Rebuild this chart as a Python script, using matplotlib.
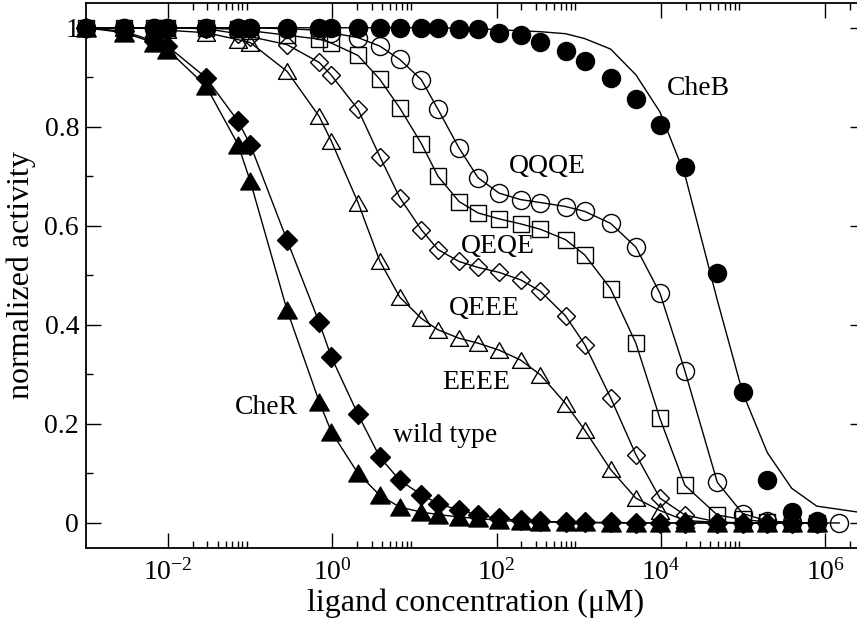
import matplotlib
matplotlib.use("Agg")
import matplotlib.pyplot as plt
from matplotlib.path import Path
from matplotlib.ticker import FixedLocator, FixedFormatter, NullFormatter

plt.rcParams['font.family'] = ['Liberation Serif', 'DejaVu Serif']
plt.rcParams['mathtext.fontset'] = 'custom'
plt.rcParams['mathtext.rm'] = 'Liberation Serif'
plt.rcParams['mathtext.it'] = 'Liberation Serif:italic'
plt.rcParams['mathtext.bf'] = 'Liberation Serif:bold'

# ligand concentrations (uM) of the measured points
conc = [1e-3, 2.9e-3, 6.7e-3, 9.8e-3, 2.9e-2, 7.1e-2, 0.1, 0.28, 0.69, 0.97,
        2.05, 3.77, 6.6, 12.1, 19.3, 34.8, 59.3, 107, 195, 341,
        689, 1183, 2432, 4943, 9705, 19540, 48420, 98620, 196800, 389900, 785200]
conc_qqqe = conc + [1.48e6]
conc_cheb_line = conc + [3.0e6]

cheb = [1.0, 1.0, 1.0, 1.0, 1.0, 1.0, 1.0, 1.0, 1.0, 1.0,
        1.0, 1.0, 1.0, 1.0, 1.0, 0.998, 0.997, 0.99, 0.985, 0.972,
        0.953, 0.932, 0.898, 0.857, 0.803, 0.718, 0.504, 0.264, 0.087, 0.022, 0.004]
cheb_line = [1.0, 1.0, 1.0, 1.0, 1.0, 1.0, 1.0, 1.0, 1.0, 1.0,
             1.0, 1.0, 1.0, 1.0, 1.0, 0.999, 0.998, 0.996, 0.994, 0.992,
             0.988, 0.978, 0.957, 0.905, 0.830, 0.703, 0.450, 0.263, 0.142, 0.070, 0.034,
             0.020]
qqqe = [1.0, 1.0, 1.0, 1.0, 1.0, 1.0, 1.0, 0.998, 0.995, 0.99,
        0.98, 0.963, 0.936, 0.895, 0.835, 0.757, 0.697, 0.666, 0.653, 0.647,
        0.639, 0.629, 0.605, 0.557, 0.464, 0.307, 0.082, 0.019, 0.004, 0.001, 0.0,
        0.0]
qeqe = [1.0, 1.0, 1.0, 1.0, 0.999, 0.997, 0.994, 0.985, 0.977, 0.969,
        0.944, 0.896, 0.838, 0.766, 0.700, 0.649, 0.626, 0.614, 0.604, 0.593,
        0.572, 0.541, 0.473, 0.363, 0.211, 0.076, 0.016, 0.007, 0.002, 0.0, 0.0]
qeee = [1.0, 1.0, 1.0, 1.0, 0.998, 0.988, 0.982, 0.966, 0.930, 0.904,
        0.835, 0.740, 0.657, 0.592, 0.552, 0.528, 0.516, 0.506, 0.491, 0.468,
        0.418, 0.360, 0.253, 0.138, 0.050, 0.016, 0.002, 0.0, 0.0, 0.0, 0.0]
eeee = [1.0, 1.0, 0.998, 0.995, 0.99, 0.976, 0.97, 0.912, 0.821, 0.771,
        0.647, 0.529, 0.456, 0.413, 0.390, 0.373, 0.363, 0.349, 0.329, 0.299,
        0.241, 0.187, 0.108, 0.050, 0.025, 0.005, 0.001, 0.0, 0.0, 0.0, 0.0]
wild = [1.0, 0.993, 0.973, 0.963, 0.899, 0.811, 0.764, 0.571, 0.405, 0.335,
        0.219, 0.133, 0.086, 0.057, 0.039, 0.026, 0.016, 0.009, 0.005, 0.003,
        0.002, 0.001, 0.001, 0.0, 0.0, 0.0, 0.0, 0.0, 0.0, 0.0, 0.0]
cher = [1.0, 0.99, 0.97, 0.956, 0.882, 0.764, 0.69, 0.430, 0.245, 0.184,
        0.100, 0.056, 0.032, 0.022, 0.017, 0.012, 0.009, 0.005, 0.003, 0.002,
        0.001, 0.001, 0.0, 0.0, 0.0, 0.0, 0.0, 0.0, 0.0, 0.0, 0.0]

labels = ["CheB", "QQQE", "QEQE", "QEEE", "EEEE", "wild type", "CheR"]
label_pos = [(1.18e4, 0.865), (140, 0.706), (36.2, 0.545), (26.3, 0.420),
             (21.9, 0.270), (5.47, 0.164), (0.0645, 0.221)]

xmajor = [1e-2, 1e0, 1e2, 1e4, 1e6]
xmajor_labels = ["$10^{-2}$", "$10^{0}$", "$10^{2}$", "$10^{4}$", "$10^{6}$"]
ymajor = [0, 0.2, 0.4, 0.6, 0.8, 1.0]
ymajor_labels = ["0", "0.2", "0.4", "0.6", "0.8", "1"]

fig = plt.figure(figsize=(8.57, 6.30), dpi=100)
ax = fig.add_axes([86 / 857, 1 - 547.7 / 630, (864.5 - 86) / 857, (547.7 - 3) / 630])

lw = 1.0
tri = Path([(-1, -0.87), (1, -0.87), (0, 0.87), (-1, -0.87)],
           [Path.MOVETO, Path.LINETO, Path.LINETO, Path.CLOSEPOLY])

# line for CheB model
ax.plot(conc_cheb_line, cheb_line, color='black', lw=lw, zorder=2, clip_on=True)
ax.plot(conc, cheb, ls='none', marker='o', ms=13, mfc='black', mec='black',
        zorder=5, clip_on=False)

ax.plot(conc_qqqe, qqqe, color='black', lw=lw, marker='o', ms=13, mfc='none',
        mec='black', mew=1.0, zorder=3, clip_on=False)
ax.plot(conc, qeqe, color='black', lw=lw, marker='s', ms=11.5, mfc='none',
        mec='black', mew=1.0, zorder=3, clip_on=False)
ax.plot(conc, qeee, color='black', lw=lw, marker='D', ms=9.5, mfc='none',
        mec='black', mew=1.0, zorder=3, clip_on=False)
ax.plot(conc, eeee, color='black', lw=lw, marker=tri, ms=13, mfc='none',
        mec='black', mew=1.0, zorder=3, clip_on=False)
ax.plot(conc, wild, color='black', lw=lw, marker='D', ms=10, mfc='black',
        mec='black', zorder=4, clip_on=False)
ax.plot(conc, cher, color='black', lw=lw, marker=tri, ms=14, mfc='black',
        mec='black', zorder=4, clip_on=False)

for lab, (lx, ly) in zip(labels, label_pos):
    ax.text(lx, ly, lab, fontsize=20, ha='left', va='baseline', zorder=6)

ax.set_xscale('log')
ax.set_xlim(1e-3, 3e6)
ax.set_ylim(-0.05, 1.05)

ax.xaxis.set_major_locator(FixedLocator(xmajor))
ax.xaxis.set_major_formatter(FixedFormatter(xmajor_labels))
xminor = [k * 10.0 ** e for e in (-2, 0, 2, 4, 6) for k in range(2, 10)]
ax.xaxis.set_minor_locator(FixedLocator(xminor))
ax.xaxis.set_minor_formatter(NullFormatter())

ax.yaxis.set_major_locator(FixedLocator(ymajor))
ax.yaxis.set_major_formatter(FixedFormatter(ymajor_labels))
ax.yaxis.set_minor_locator(FixedLocator([0.1, 0.3, 0.5, 0.7, 0.9]))

ax.tick_params(which='both', direction='in', top=True, right=True, width=1.0,
               labelsize=20)
ax.tick_params(which='major', length=11)
ax.tick_params(which='minor', length=5)
ax.tick_params(axis='x', which='major', pad=8)
ax.tick_params(axis='y', which='major', pad=5)

for sp in ax.spines.values():
    sp.set_linewidth(1.3)

ax.set_xlabel("ligand concentration (\u03bcM)", fontsize=23, labelpad=2)
ax.set_ylabel("normalized activity", fontsize=23, labelpad=6)

fig.savefig("out.png", dpi=100)
